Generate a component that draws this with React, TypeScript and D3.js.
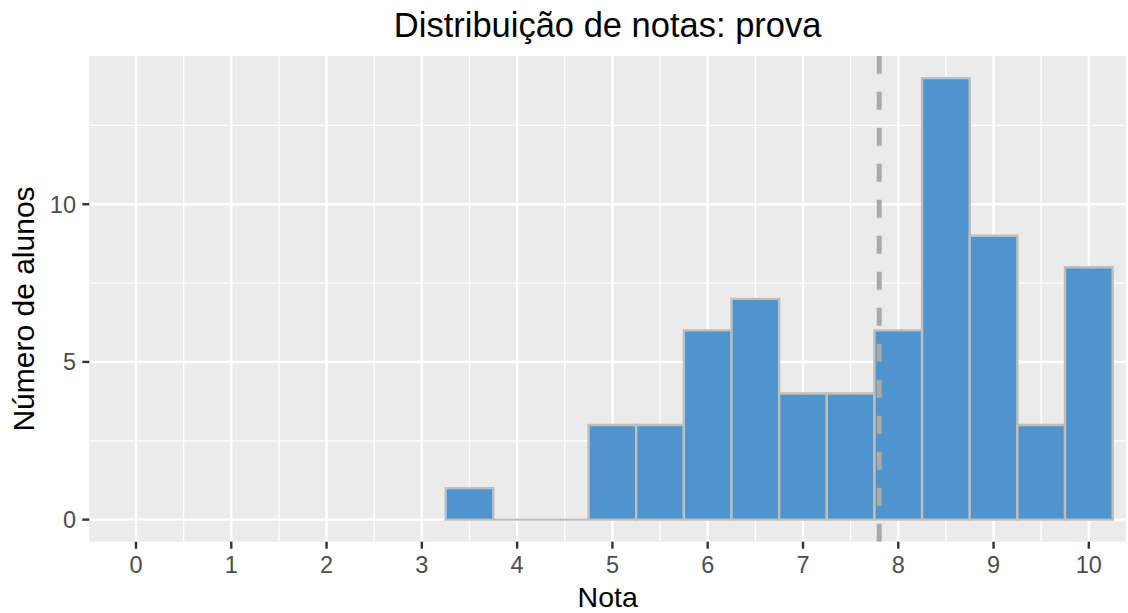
import { useMemo } from 'react';
import * as d3 from 'd3';

// histogram bins (width 0.5)
const binCenters = [3.5, 4, 4.5, 5, 5.5, 6, 6.5, 7, 7.5, 8, 8.5, 9, 9.5, 10];
const binCounts = [1, 0, 0, 3, 3, 6, 7, 4, 4, 6, 14, 9, 3, 8];
const BIN_WIDTH = 0.5;
const MEAN_NOTA = 7.8;

const xTicks = [0, 1, 2, 3, 4, 5, 6, 7, 8, 9, 10];
const xMinor = [0.5, 1.5, 2.5, 3.5, 4.5, 5.5, 6.5, 7.5, 8.5, 9.5];
const yTicks = [0, 5, 10];
const yMinor = [2.5, 7.5, 12.5];

const WIDTH = 1128;
const HEIGHT = 613;
const PANEL = { left: 89.3, right: 1126, top: 56, bottom: 541.7 };

const FONT = "'Liberation Sans', Arial, Helvetica, sans-serif";

export default function App() {
  const x = useMemo(
    () => d3.scaleLinear().domain([-0.49, 10.39]).range([PANEL.left, PANEL.right]),
    [],
  );
  const y = useMemo(
    () => d3.scaleLinear().domain([-0.7, 14.7]).range([PANEL.bottom, PANEL.top]),
    [],
  );

  const bars = binCenters.map((c, i) => {
    const p = d3.path();
    const x0 = x(c - BIN_WIDTH / 2);
    const x1 = x(c + BIN_WIDTH / 2);
    const y0 = y(0);
    const y1 = y(binCounts[i]);
    p.moveTo(x0, y0);
    p.lineTo(x0, y1);
    p.lineTo(x1, y1);
    p.lineTo(x1, y0);
    p.closePath();
    return p.toString();
  });

  const panelCx = (PANEL.left + PANEL.right) / 2;

  return (
    <svg
      width={WIDTH}
      height={HEIGHT}
      style={{ display: 'block', position: 'absolute', left: 0, top: 0, background: '#fff' }}
      fontFamily={FONT}
    >
      <defs>
        <clipPath id="panel-clip">
          <rect
            x={PANEL.left}
            y={PANEL.top}
            width={PANEL.right - PANEL.left}
            height={PANEL.bottom - PANEL.top}
          />
        </clipPath>
      </defs>
      <rect
        x={PANEL.left}
        y={PANEL.top}
        width={PANEL.right - PANEL.left}
        height={PANEL.bottom - PANEL.top}
        fill="#EBEBEB"
      />
      <g clipPath="url(#panel-clip)">
        {/* minor grid */}
        {xMinor.map((v) => (
          <line key={'xm' + v} x1={x(v)} x2={x(v)} y1={PANEL.top} y2={PANEL.bottom} stroke="#fff" strokeWidth={1.3} />
        ))}
        {yMinor.map((v) => (
          <line key={'ym' + v} x1={PANEL.left} x2={PANEL.right} y1={y(v)} y2={y(v)} stroke="#fff" strokeWidth={1.3} />
        ))}
        {/* major grid */}
        {xTicks.map((v) => (
          <line key={'xg' + v} x1={x(v)} x2={x(v)} y1={PANEL.top} y2={PANEL.bottom} stroke="#fff" strokeWidth={2.4} />
        ))}
        {yTicks.map((v) => (
          <line key={'yg' + v} x1={PANEL.left} x2={PANEL.right} y1={y(v)} y2={y(v)} stroke="#fff" strokeWidth={2.4} />
        ))}

        {bars.map((d, i) => (
          <path key={i} d={d} fill="#4F94CD" stroke="#BEBEBE" strokeWidth={2.4} />
        ))}

        <line
          x1={x(MEAN_NOTA)}
          x2={x(MEAN_NOTA)}
          y1={PANEL.bottom}
          y2={PANEL.top}
          stroke="#A9A9A9"
          strokeWidth={5}
          strokeDasharray="18 18"
        />
      </g>

      {/* x axis */}
      {xTicks.map((v) => (
        <g key={'xt' + v}>
          <line x1={x(v)} x2={x(v)} y1={PANEL.bottom} y2={PANEL.bottom + 7} stroke="#333" strokeWidth={2.4} />
          <text x={x(v)} y={573} textAnchor="middle" fontSize={23.5} fill="#4D4D4D">
            {v}
          </text>
        </g>
      ))}
      {/* y axis */}
      {yTicks.map((v) => (
        <g key={'yt' + v}>
          <line x1={PANEL.left - 7} x2={PANEL.left} y1={y(v)} y2={y(v)} stroke="#333" strokeWidth={2.4} />
          <text x={76} y={y(v)} dy="0.36em" textAnchor="end" fontSize={23.5} fill="#4D4D4D">
            {v}
          </text>
        </g>
      ))}

      <text x={panelCx} y={606.5} textAnchor="middle" fontSize={28.5} fill="#000">
        Nota
      </text>
      <text
        transform={`translate(33.5, 309) rotate(-90)`}
        textAnchor="middle"
        fontSize={30}
        fill="#000"
      >
        Número de alunos
      </text>
      <text x={panelCx} y={37} textAnchor="middle" fontSize={34.5} fill="#000">
        Distribuição de notas: prova
      </text>
    </svg>
  );
}
